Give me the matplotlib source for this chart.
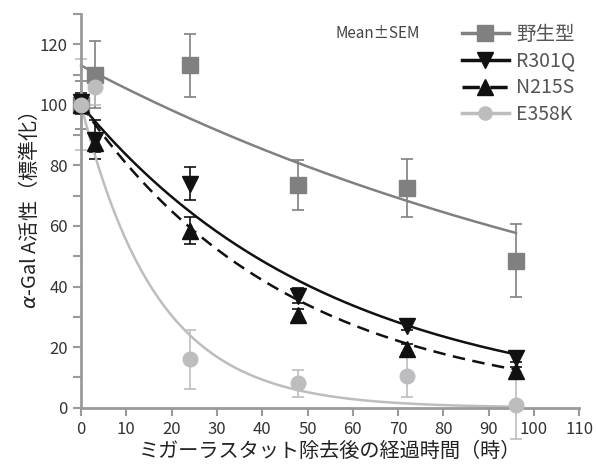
import numpy as np
import matplotlib
matplotlib.use("Agg")
import matplotlib.pyplot as plt

plt.rcParams['font.family'] = ['Noto Sans CJK JP', 'DejaVu Sans']

# time points (h)
hours = [0, 3, 24, 48, 72, 96]

# mean values and SEM
wt_mean = [100, 110, 113, 73.5, 72.5, 48.5]
wt_sem = [8, 11, 10.5, 8.2, 9.5, 12]
r301q_mean = [101, 88.5, 74, 37, 27, 16.5]
r301q_sem = [3, 6.5, 5.5, 2.5, 1.5, 1.5]
n215s_mean = [100, 87.5, 58.5, 30.5, 19.5, 12]
n215s_sem = [3, 3, 4.5, 2, 1.5, 1.5]
e358k_mean = [100, 106, 16, 8, 10.5, 0.8]
e358k_sem = [15, 6, 9.7, 4.5, 7, 11]

# fitted exponential decay (A, k) for each series
fit_wt = (113, 0.0070)
fit_r301q = (100, 0.0181)
fit_n215s = (100, 0.0216)
fit_e358k = (100, 0.0595)

labels = ['野生型', 'R301Q', 'N215S', 'E358K']

fig = plt.figure(figsize=(5.96, 4.67), dpi=100)
ax = fig.add_axes([0.136, 0.127, 0.836, 0.843])

tt = np.linspace(0, 96, 300)

series = [
    (wt_mean, wt_sem, fit_wt, '#808080', 's', '-', 12),
    (r301q_mean, r301q_sem, fit_r301q, '#111111', 'v', '-', 12),
    (n215s_mean, n215s_sem, fit_n215s, '#111111', '^', (0, (5, 3)), 12),
    (e358k_mean, e358k_sem, fit_e358k, '#bdbdbf', 'o', '-', 10.5),
]

handles = []
for i, (m, s, fit, col, mk, ls, ms) in enumerate(series):
    A, k = fit
    z = 2 + i * 0.1 if i != 0 else 1.5
    ax.plot(tt, A * np.exp(-k * tt), color=col, lw=1.8, ls=ls, zorder=z, clip_on=False)
    ax.errorbar(hours, m, yerr=s, fmt='none', ecolor=col, elinewidth=1.2,
                capsize=4, capthick=1.2, zorder=z, clip_on=False)
    ax.plot(hours, m, ls='none', marker=mk, ms=ms, color=col, mec=col,
            zorder=z + 1, clip_on=False)
    h, = ax.plot([], [], color=col, lw=2.5, ls=ls, marker=mk, ms=ms - 1, mec=col)
    handles.append(h)

ax.set_xlim(0, 110)
ax.set_ylim(0, 130)
ax.set_xticks(range(0, 111, 10))
ax.set_yticks(range(0, 121, 20))
ax.set_yticks(range(10, 131, 10), minor=True)

for side in ['top', 'right']:
    ax.spines[side].set_visible(False)
for side in ['left', 'bottom']:
    ax.spines[side].set_color('#9a9a9a')
    ax.spines[side].set_linewidth(2)
ax.tick_params(which='both', direction='out', color='#9a9a9a', width=1.5,
               length=6, labelsize=12, labelcolor='#333333')
ax.tick_params(axis='x', which='minor', length=0)

ax.set_xlabel('ミガーラスタット除去後の経過時間（時）', fontsize=14.5, color='#222222', labelpad=2)
ax.set_ylabel(r'$\alpha$-Gal A活性（標準化）', fontsize=14.5, color='#222222', labelpad=-1)

leg = ax.legend(handles, labels, loc='upper left', bbox_to_anchor=(0.745, 1.0),
                frameon=False, fontsize=14, handlelength=2.4, handletextpad=0.4,
                labelspacing=0.3, borderpad=0)
for t in leg.get_texts():
    t.set_color('#555555')

ax.text(0.51, 0.94, 'Mean±SEM', transform=ax.transAxes, fontsize=11, color='#444444')

plt.savefig('out.png', dpi=100)
